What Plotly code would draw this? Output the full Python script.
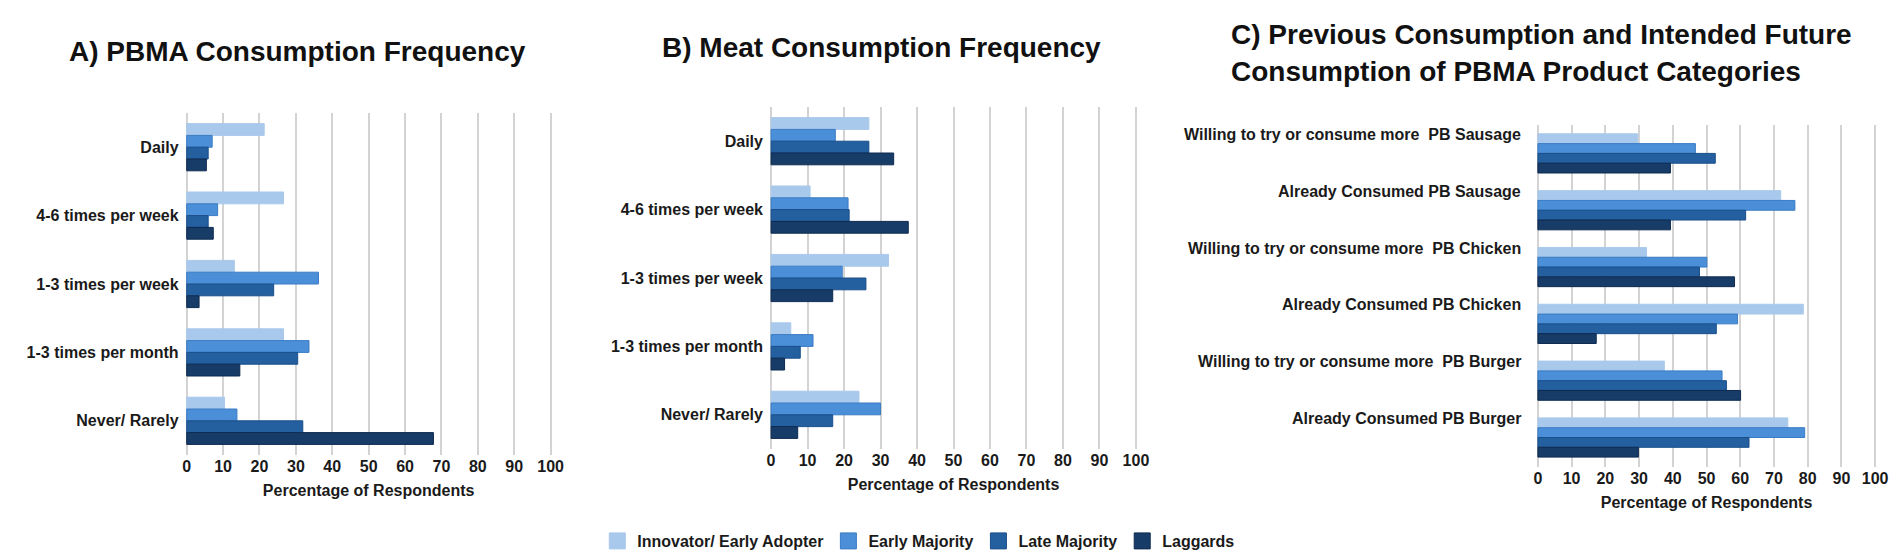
import plotly.graph_objects as go

series = ["Innovator/ Early Adopter", "Early Majority", "Late Majority", "Laggards"]
colors = ["#a9c9ec", "#4a8fd8", "#245f9f", "#173c68"]
edge = ["#a9c9ec", "#3a7cc4", "#1a4f8a", "#0e2a50"]

freq_cats = ["Daily", "4-6 times per week", "1-3 times per week",
             "1-3 times per month", "Never/ Rarely"]

# A) PBMA consumption frequency
pbma_innov = [21.3, 26.6, 13.1, 26.6, 10.4]
pbma_early = [7.0, 8.5, 36.2, 33.6, 13.8]
pbma_late = [5.9, 5.9, 23.9, 30.5, 31.9]
pbma_lag = [5.4, 7.3, 3.4, 14.6, 67.8]

# B) Meat consumption frequency
meat_innov = [26.8, 10.7, 32.2, 5.4, 24.1]
meat_early = [17.6, 21.1, 19.5, 11.5, 30.0]
meat_late = [26.8, 21.4, 26.0, 8.0, 16.9]
meat_lag = [33.6, 37.6, 16.9, 3.7, 7.3]

# C) product categories
prod_cats = ["Willing to try or consume more \u00a0PB Sausage",
             "Already Consumed PB Sausage",
             "Willing to try or consume more \u00a0PB Chicken",
             "Already Consumed PB Chicken",
             "Willing to try or consume more \u00a0PB Burger",
             "Already Consumed PB Burger"]
prod_innov = [29.6, 72.0, 32.2, 78.7, 37.5, 74.1]
prod_early = [46.7, 76.2, 50.1, 59.2, 54.6, 79.1]
prod_late = [52.6, 61.6, 47.9, 52.9, 55.9, 62.6]
prod_lag = [39.3, 39.3, 58.3, 17.3, 60.1, 29.8]

x_ticks = list(range(0, 101, 10))

W, H = 1902, 557
FONT = "Liberation Sans, Arial, sans-serif"
TXT = "#1a1a1a"

panels = [
    ("", freq_cats, [pbma_innov, pbma_early, pbma_late, pbma_lag]),
    ("2", freq_cats, [meat_innov, meat_early, meat_late, meat_lag]),
    ("3", prod_cats, [prod_innov, prod_early, prod_late, prod_lag]),
]

fig = go.Figure()
for p, (ax, cats, data) in enumerate(panels):
    for i, vals in enumerate(data):
        fig.add_trace(go.Bar(
            x=vals, y=cats, orientation="h",
            name=series[i], legendgroup=series[i], showlegend=False,
            marker=dict(color=colors[i], line=dict(color=edge[i], width=1)),
            xaxis="x" + ax, yaxis="y" + ax,
            hovertemplate="%{y}: %{x:.1f}%<extra>" + series[i] + "</extra>",
        ))

# legend entries with bigger square swatches
for i, s in enumerate(series):
    fig.add_trace(go.Scatter(
        x=[None], y=[None], mode="markers", name=s, legendgroup=s,
        marker=dict(symbol="square", size=16, color=colors[i],
                    line=dict(color=edge[i], width=1)),
        hoverinfo="skip",
    ))

# pixel boxes of the three plot areas: left, right, top, bottom
boxes = [(176, 545, 105, 447), (765, 1135, 99, 441), (1538, 1880, 117, 459)]


def xdom(b):
    return [b[0] / W, b[1] / W]


def ydom(b):
    return [1 - b[3] / H, 1 - b[2] / H]


axis_font = dict(family=FONT, size=16, color=TXT, weight="bold")
layout_axes = {}
for p, b in enumerate(boxes):
    sfx = "" if p == 0 else str(p + 1)
    layout_axes["xaxis" + sfx] = dict(
        domain=xdom(b), range=[-0.3, 100.3], tickvals=x_ticks,
        showgrid=True, gridcolor="#d3d3d3", gridwidth=1.5, zeroline=False,
        tickfont=axis_font, ticks="", anchor="y" + sfx,
        title=dict(text="Percentage of Respondents", font=axis_font, standoff=10),
        fixedrange=True,
    )
    layout_axes["yaxis" + sfx] = dict(
        domain=ydom(b), autorange="reversed", anchor="x" + sfx,
        showgrid=False, zeroline=False, ticks="",
        tickfont=axis_font, ticklabelstandoff=6,
        showticklabels=(p != 2), fixedrange=True,
    )

fig.update_layout(**layout_axes)

annotations = [
    dict(text="A) PBMA Consumption Frequency", x=289 / W, y=1 - 44 / H,
         xanchor="center"),
    dict(text="B) Meat Consumption Frequency", x=877 / W, y=1 - 39 / H,
         xanchor="center"),
    dict(text="C) Previous Consumption and Intended Future",
         x=1228 / W, y=1 - 26 / H, xanchor="left"),
    dict(text="Consumption of PBMA Product Categories",
         x=1228 / W, y=1 - 63 / H, xanchor="left"),
]
for a in annotations:
    a.update(xref="paper", yref="paper", showarrow=False, yanchor="middle",
             font=dict(family=FONT, size=28, color="#111", weight="bold"))

# panel C labels sit at the top of each bar group
for c in prod_cats:
    annotations.append(dict(
        text=c, xref="x3 domain", yref="y3", x=0, y=c, xanchor="right",
        yanchor="middle", xshift=-14, yshift=19, showarrow=False,
        font=axis_font,
    ))

fig.update_layout(
    annotations=annotations,
    barmode="group", bargap=0.31, bargroupgap=0,
    width=W, height=H, margin=dict(l=0, r=0, t=0, b=0),
    paper_bgcolor="white", plot_bgcolor="white",
    font=dict(family=FONT, color=TXT),
    legend=dict(orientation="h", x=915 / W, xanchor="center",
                y=1 - 533 / H, yanchor="middle", font=axis_font,
                itemwidth=30, traceorder="normal", itemsizing="trace"),
)

fig.write_html("out.html")
